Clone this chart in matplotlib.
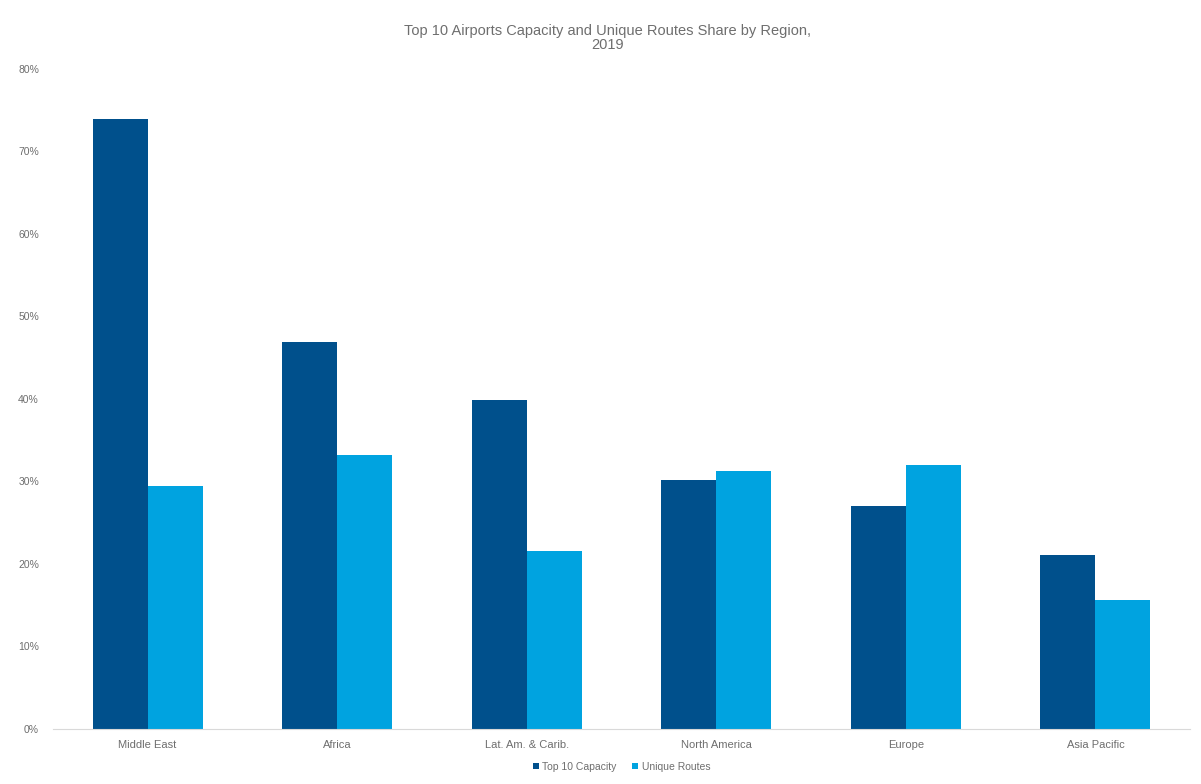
import matplotlib.pyplot as plt
import numpy as np
from matplotlib.ticker import PercentFormatter

plt.rcParams['font.family'] = ['Liberation Sans', 'DejaVu Sans']

regions = ["Middle East", "Africa", "Lat. Am. & Carib.", "North America", "Europe", "Asia Pacific"]
top10_capacity = [73.9, 46.9, 39.9, 30.2, 27.0, 21.1]
unique_routes = [29.5, 33.2, 21.6, 31.3, 32.0, 15.6]

dark = "#00508C"
light = "#00A3E0"
grey = "#6E6E6E"

fig = plt.figure(figsize=(12.01, 7.84), dpi=100)
ax = fig.add_axes([0.044, 0.0702, 0.947, 0.8418])

x = np.arange(len(regions))
w = 0.29
ax.bar(x - w / 2, top10_capacity, w, color=dark, label="Top 10 Capacity")
ax.bar(x + w / 2, unique_routes, w, color=light, label="Unique Routes")

ax.set_xlim(-0.5, len(regions) - 0.5)
ax.set_ylim(0, 80)
ax.set_yticks(np.arange(0, 81, 10))
ax.yaxis.set_major_formatter(PercentFormatter(decimals=0))
ax.set_xticks(x)
ax.set_xticklabels(regions)
ax.tick_params(axis="both", length=0, labelsize=8, colors=grey, pad=8)
ax.tick_params(axis="y", pad=10, labelsize=7.5)

for s in ["top", "right", "left"]:
    ax.spines[s].set_visible(False)
ax.spines["bottom"].set_color("#D9D9D9")

fig.text(0.506, 0.951, "Top 10 Airports Capacity and Unique Routes Share by Region,\n2019",
         ha="center", va="center", fontsize=10.5, color=grey, linespacing=1.0)

ax.legend(loc="center", bbox_to_anchor=(0.5, -0.057), ncol=2, frameon=False,
          fontsize=7.5, labelcolor=grey, handlelength=0.6, handleheight=0.6,
          handletextpad=0.3, columnspacing=1.5)

fig.savefig("out.png", dpi=100)
